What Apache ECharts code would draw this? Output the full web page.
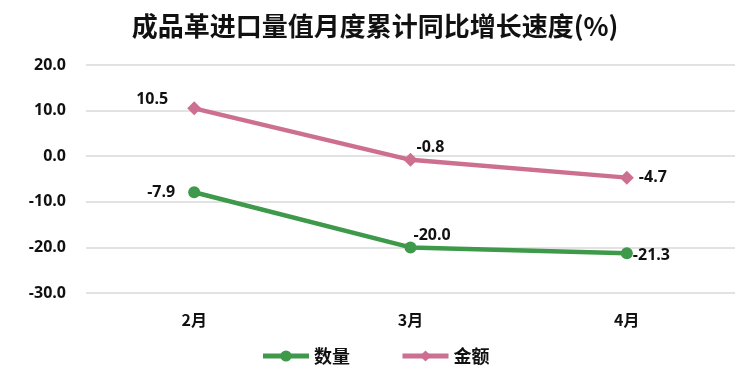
<!DOCTYPE html>
<html>
<head>
<meta charset="utf-8">
<script src="https://cdn.jsdelivr.net/npm/echarts@6/dist/echarts.min.js"></script>
<style>
  html, body { margin: 0; padding: 0; background: #fff; }
  #chart { width: 750px; height: 376px; }
</style>
</head>
<body>
<div id="chart"></div>
<script>
// 月份
const months = ["2月", "3月", "4月"];
// 数量 / 金额 同比增速
const qtyValues = [-7.9, -20.0, -21.3];
const amtValues = [10.5, -0.8, -4.7];

const font = "'Noto Sans CJK SC', 'Noto Sans', sans-serif";
const numFont = "'Open Sans', 'Noto Sans CJK SC', sans-serif";
const green = "#3e9a4a";
const pink = "#cc6f90";

// 每个点的标签位置
const qtyLabelPos = [
  { position: "left", offset: [-8, 0] },
  { position: "right", offset: [-8, -12] },
  { position: "right", offset: [-5, 2] }
];
const amtLabelPos = [
  { position: "left", offset: [-14, -9] },
  { position: "right", offset: [-6, -12] },
  { position: "right", offset: [0, 0] }
];

const chart = echarts.init(document.getElementById("chart"));

const labelStyle = {
  show: true,
  color: "#111",
  fontSize: 16,
  fontWeight: "bold",
  fontFamily: numFont,
  formatter: p => p.value.toFixed(1)
};

const option = {
  animation: false,
  title: {
    text: "成品革进口量值月度累计同比增长速度(%)",
    left: "center",
    top: 8,
    textStyle: { fontSize: 26, fontWeight: "bold", color: "#111", fontFamily: font }
  },
  legend: {
    bottom: 6,
    left: "center",
    itemWidth: 46,
    itemHeight: 14,
    itemGap: 50,
    lineStyle: { width: 5 },
    textStyle: { fontSize: 18, fontWeight: "bold", color: "#111", fontFamily: font },
    data: ["数量", "金额"]
  },
  grid: { left: 86, right: 15, top: 65, bottom: 83 },
  xAxis: {
    type: "category",
    data: months,
    axisLine: { show: false },
    axisTick: { show: false },
    axisLabel: { fontSize: 16, fontWeight: "bold", color: "#111", fontFamily: font, margin: 19 }
  },
  yAxis: {
    type: "value",
    min: -30,
    max: 20,
    interval: 10,
    axisLine: { show: false },
    axisTick: { show: false },
    splitLine: { lineStyle: { color: "#d9d9d9", width: 1.5 } },
    axisLabel: {
      fontSize: 16, fontWeight: "bold", color: "#111", fontFamily: numFont, margin: 20,
      formatter: v => v.toFixed(1)
    }
  },
  series: [
    {
      name: "数量",
      type: "line",
      symbol: "circle",
      symbolSize: 12,
      itemStyle: { color: green },
      lineStyle: { color: green, width: 4.5 },
      data: qtyValues.map((v, i) => ({ value: v, label: Object.assign({}, labelStyle, qtyLabelPos[i]) })),
      label: labelStyle
    },
    {
      name: "金额",
      type: "line",
      symbol: "diamond",
      symbolSize: 14,
      itemStyle: { color: pink },
      lineStyle: { color: pink, width: 4.5 },
      data: amtValues.map((v, i) => ({ value: v, label: Object.assign({}, labelStyle, amtLabelPos[i]) })),
      label: labelStyle
    }
  ]
};

chart.setOption(option);
</script>
</body>
</html>
